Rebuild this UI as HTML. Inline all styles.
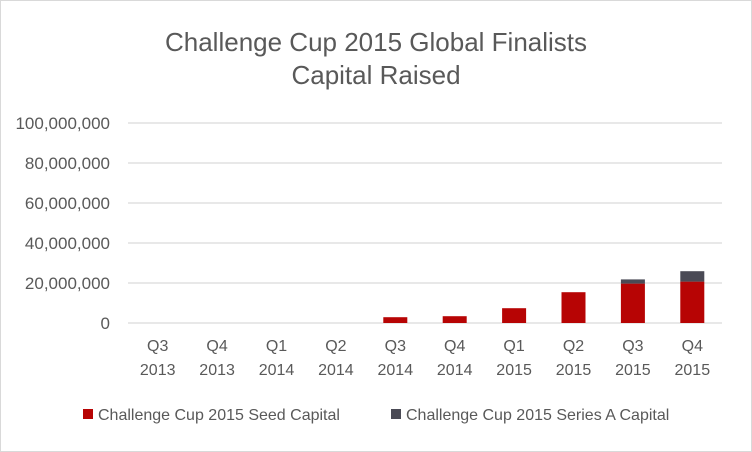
<!DOCTYPE html>
<html><head><meta charset="utf-8"><style>
body{margin:0;background:#fff;font-family:"Liberation Sans",Arial,sans-serif;}
#wrap{position:relative;width:750px;height:450px;border:1px solid #d9d9d9;background:#fff;overflow:hidden}
</style></head><body>
<div id="wrap">
<svg id="chart" width="750" height="450"></svg>
</div>
<script>
const categories=["Q3|2013","Q4|2013","Q1|2014","Q2|2014","Q3|2014","Q4|2014","Q1|2015","Q2|2015","Q3|2015","Q4|2015"];
const seedValues=[0,0,0,0,2900000,3400000,7400000,15400000,19700000,20700000];
const seriesAValues=[0,0,0,0,0,0,0,0,2100000,5200000];
const yTicks=[0,20000000,40000000,60000000,80000000,100000000];
const yTickLabels=["0","20,000,000","40,000,000","60,000,000","80,000,000","100,000,000"];
const svg=document.getElementById('chart');
const NS='http://www.w3.org/2000/svg';
const plotL=127,plotR=721,y0=322,yTop=122,yMax=100000000;
const band=(plotR-plotL)/categories.length;
const y=v=>y0-(v/yMax)*(y0-yTop);
const xc=i=>plotL+band*(i+0.5);
function el(t,a){const e=document.createElementNS(NS,t);for(const k in a)e.setAttribute(k,a[k]);svg.appendChild(e);return e;}
function txt(s,a){const e=el('text',a);e.textContent=s;return e;}
let t;
t=txt('Challenge Cup 2015 Global Finalists',{x:375,y:50,'text-anchor':'middle','font-size':26,fill:'#595959'});


t=txt('Capital Raised',{x:375,y:83,'text-anchor':'middle','font-size':26,fill:'#595959'});


yTicks.forEach((v,i)=>{
 const g=el('line',{x1:plotL,x2:plotR,y1:y(v),y2:y(v),stroke:'#d9d9d9','stroke-width':1.3});
 
 
 const l=txt(yTickLabels[i],{x:109,y:y(v)+6,'text-anchor':'end','font-size':17,fill:'#595959'});
 
 
});
const bw=24;
categories.forEach((c,i)=>{
 const [a,b]=c.split('|');
 const l1=txt(a,{x:xc(i),y:350,'text-anchor':'middle','font-size':16,fill:'#595959'});
 
 
 const l2=txt(b,{x:xc(i),y:374,'text-anchor':'middle','font-size':16,fill:'#595959'});
 
 
 if(seedValues[i]>0){
  const r=el('rect',{x:xc(i)-bw/2,y:y(seedValues[i]),width:bw,height:y(0)-y(seedValues[i]),fill:'#b70404'});
  
  
 }
 if(seriesAValues[i]>0){
  const top=y(seedValues[i]+seriesAValues[i]);
  const r=el('rect',{x:xc(i)-bw/2,y:top,width:bw,height:y(seedValues[i])-top,fill:'#4a4a55'});
  
  
 }
});
let r=el('rect',{x:82,y:408,width:10,height:10,fill:'#b70404'});


t=txt('Challenge Cup 2015 Seed Capital',{x:97,y:419,'font-size':16,fill:'#595959'});


r=el('rect',{x:390,y:408,width:10,height:10,fill:'#4a4a55'});


t=txt('Challenge Cup 2015 Series A Capital',{x:405,y:419,'font-size':16,fill:'#595959'});


</script>
</body></html>
